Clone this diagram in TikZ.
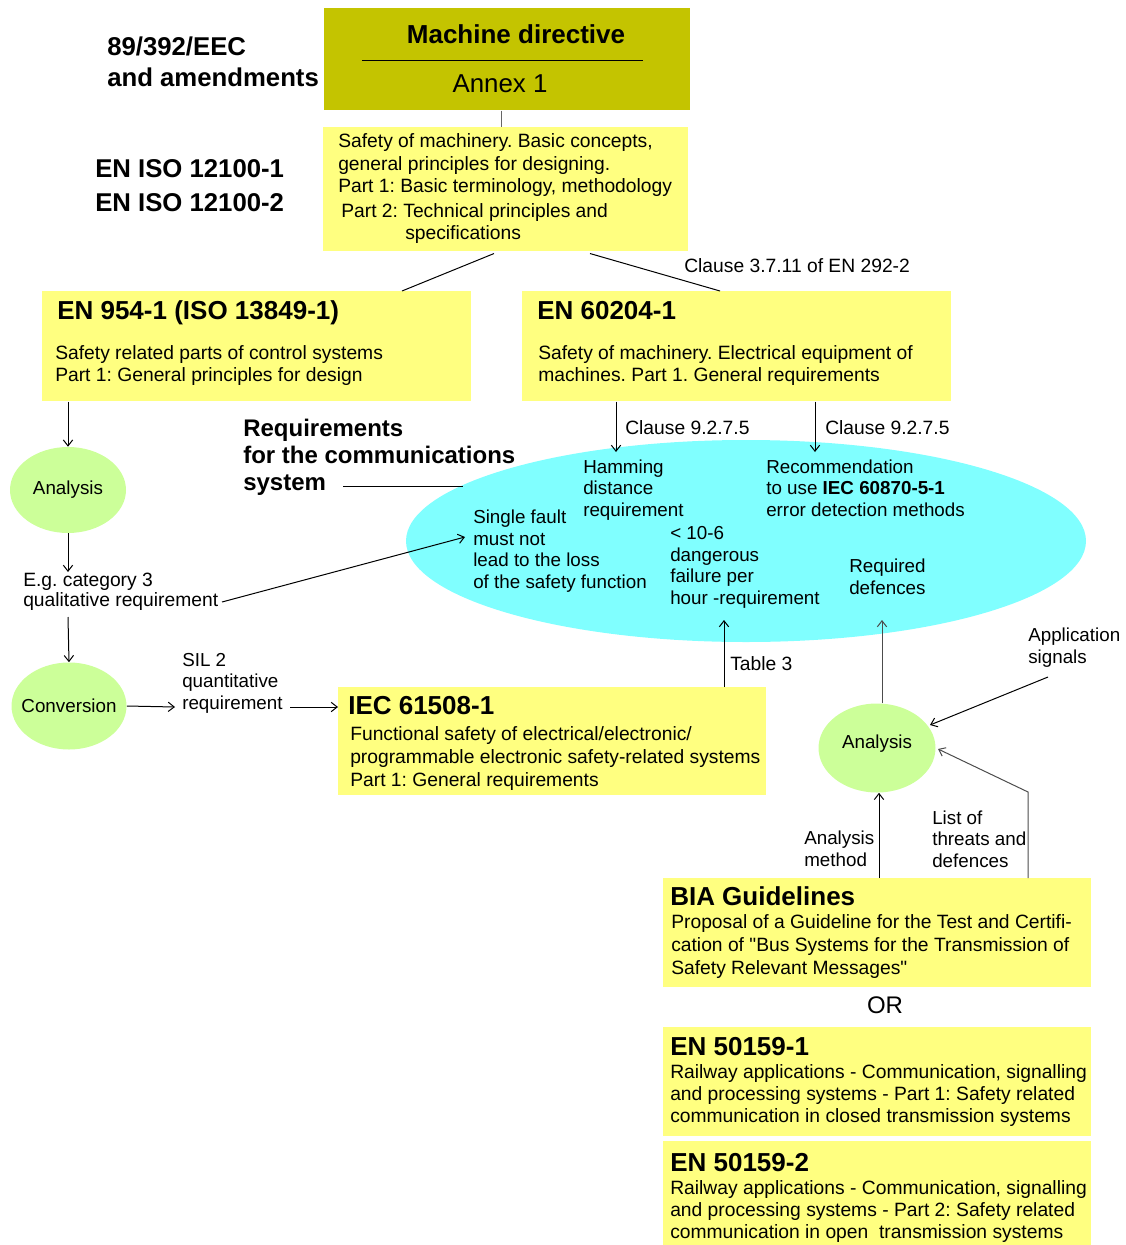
\documentclass[tikz,border=0pt]{standalone}
\usepackage{fontspec}
\setmainfont{Liberation Sans}[Ligatures=TeXOff]
\usetikzlibrary{arrows.meta,calc,shapes.geometric}
\definecolor{boxyellow}{HTML}{FFFF80}
\definecolor{dirolive}{HTML}{C4C400}
\definecolor{reqcyan}{HTML}{80FFFF}
\definecolor{anagreen}{HTML}{CCFF99}
\newcommand\rgfont{\fontsize{14.45}{16.5}\selectfont}
\newcommand\elfont{\fontsize{14.1}{16.1}\selectfont}
\newcommand\hdfont{\bfseries\fontsize{19.5}{23}\selectfont}
\frenchspacing
\begin{document}
\begin{tikzpicture}[x=0.75pt,y=-0.75pt,
  ybox/.style={fill=boxyellow,inner sep=0pt,anchor=north west},
  % multi-line texts are placed by the baseline of their last line
  txt/.style={font=\rgfont,align=left,inner sep=0pt,anchor=base west},
  etxt/.style={font=\elfont,align=left,inner sep=0pt,anchor=base west},
  hd/.style={font=\hdfont,align=left,inner sep=0pt,anchor=base west},
  greenell/.style={ellipse,fill=anagreen,inner sep=0pt,font=\elfont},
  conn/.style={draw=black,line width=0.75pt},
  arr/.style={conn,-{Straight Barb[length=4.5pt,width=7pt]}}]
\useasboundingbox (0,0) rectangle (1125,1245);

% ---- boxes ----
\node[fill=dirolive,inner sep=0pt,anchor=north west,minimum width={366*0.75pt},minimum height={102*0.75pt}] (md) at (324,8) {};
\node[ybox,minimum width={365*0.75pt},minimum height={124*0.75pt}] (iso) at (323,127) {};
\node[ybox,minimum width={429*0.75pt},minimum height={110*0.75pt}] (en954) at (42,291) {};
\node[ybox,minimum width={429*0.75pt},minimum height={110*0.75pt}] (en602) at (522,291) {};
\node[ybox,minimum width={428*0.75pt},minimum height={108*0.75pt}] (iec) at (338,687) {};
\node[ybox,minimum width={428*0.75pt},minimum height={109*0.75pt}] (bia) at (663,878) {};
\node[ybox,minimum width={428*0.75pt},minimum height={109*0.75pt}] (enA) at (663,1027) {};
\node[ybox,minimum width={428*0.75pt},minimum height={104*0.75pt}] (enB) at (663,1141) {};

% ---- ellipses (labels set on top so the shapes keep their size) ----
\node[ellipse,fill=reqcyan,inner sep=0pt,minimum width={680*0.75pt},minimum height={202*0.75pt}] (req) at (746,541) {};
\node[greenell,minimum width={116*0.75pt},minimum height={86*0.75pt}] (anA) at (68,490) {};
\node[font=\elfont,inner sep=0pt] (anAt) at (anA.center) {Analysis};
\node[greenell,minimum width={115*0.75pt},minimum height={87*0.75pt}] (conv) at (69,706) {};
\node[font=\elfont,inner sep=0pt] (convt) at (conv.center) {Conversion};
\node[greenell,minimum width={117*0.75pt},minimum height={89*0.75pt}] (anB) at (877,748) {};
\node[font=\elfont,inner sep=0pt] (anBt) at ($(anB.center)+(0,-4)$) {Analysis};

% ---- machine directive ----
\node[font=\hdfont,inner sep=0pt,anchor=base] (mdt) at (516,44) {Machine directive};
\draw[line width=0.75pt] (362,61) -- (643,61);
\node[font=\fontsize{19.4}{23}\selectfont,inner sep=0pt,anchor=base] (annex) at (500,93) {Annex 1};

% ---- left titles ----
\node[font=\bfseries\fontsize{19.3}{23.25}\selectfont,align=left,inner sep=0pt,anchor=base west] (eec) at (107,87) {89/392/EEC\\and amendments};
\node[font=\bfseries\fontsize{19.3}{25.5}\selectfont,align=left,inner sep=0pt,anchor=base west] (isot) at (95,211) {EN ISO 12100-1\\EN ISO 12100-2};
\node[font=\bfseries\fontsize{18}{20.25}\selectfont,align=left,inner sep=0pt,anchor=base west] (reqt) at (243,490) {Requirements\\for the communications\\system};

% ---- box texts ----
\node[txt] (isoA) at (338,192) {Safety of machinery. Basic concepts,\\general principles for designing.\\Part 1: Basic terminology, methodology};
\node[txt] (isoB) at (341,217) {Part 2: Technical principles and};
\node[txt] (isoC) at (405,239) {specifications};

\node[hd] (en954h) at (57,319) {EN 954-1 (ISO 13849-1)};
\node[txt] (en954b) at (55,381) {Safety related parts of control systems\\Part 1: General principles for design};
\node[hd] (en602h) at (537,319) {EN 60204-1};
\node[txt] (en602b) at (538,381) {Safety of machinery. Electrical equipment of\\machines. Part 1. General requirements};

\node[hd] (iech) at (348,714) {IEC 61508-1};
\node[txt,font=\fontsize{14.45}{16.9}\selectfont] (iecb) at (350,786) {Functional safety of electrical/electronic/\\programmable electronic safety-related systems\\Part 1: General requirements};

\node[hd] (biah) at (670,905) {BIA Guidelines};
\node[txt,font=\fontsize{14.45}{16.9}\selectfont] (biab) at (671,974) {Proposal of a Guideline for the Test and Certifi-\\cation of "Bus Systems for the Transmission of\\Safety Relevant Messages"};
\node[txt,anchor=base,font=\fontsize{18}{20}\selectfont] (or) at (885,1013) {OR};
\node[hd] (enAh) at (670,1055) {EN 50159-1};
\node[txt] (enAb) at (670,1122) {Railway applications - Communication, signalling\\and processing systems - Part 1: Safety related\\communication in closed transmission systems};
\node[hd] (enBh) at (670,1171) {EN 50159-2};
\node[txt] (enBb) at (670,1238) {Railway applications - Communication, signalling\\and processing systems - Part 2: Safety related\\communication in open\ \ transmission systems};

% ---- texts inside the requirements ellipse ----
\node[etxt] (ham) at (583,516) {Hamming\\distance\\requirement};
\node[etxt] (rec) at (766,516) {Recommendation\\to use \textbf{IEC 60870-5-1}\\error detection methods};
\node[etxt] (sf) at (473,588) {Single fault\\must not\\lead to the loss\\of the safety function};
\node[etxt] (dang) at (670,604) {< 10-6\\dangerous\\failure per\\hour -requirement};
\node[etxt] (def) at (849,594) {Required\\defences};

% ---- labels ----
\node[txt] (cl3711) at (684,272) {Clause 3.7.11 of EN 292-2};
\node[txt] (clA) at (625,434) {Clause 9.2.7.5};
\node[txt] (clB) at (825,434) {Clause 9.2.7.5};
\node[txt,font=\fontsize{14.45}{15}\selectfont] (eg) at (23,606) {E.g. category 3\\qualitative requirement};
\node[etxt] (sil) at (182,709) {SIL 2\\quantitative\\requirement};
\node[txt] (tab) at (730,670) {Table 3};
\node[etxt] (app) at (1028,663) {Application\\signals};
\node[etxt] (am) at (804,866) {Analysis\\method};
\node[etxt] (lt) at (932,867) {List of\\threats and\\defences};

% ---- free ends of connectors beside the labels ----
\coordinate (egtop) at (68,572);
\coordinate (egbot) at (68,617);
\coordinate (egright) at (222,602);
\coordinate (sfleft) at (465,537);
\coordinate (silin) at (175,707);
\coordinate (silout) at (290,707);
\coordinate (reqtout) at (343,486);
\coordinate (reqedge) at (463,486);
\coordinate (appout) at (1048,677);

% ---- connectors ----
\draw[conn,draw=black!60] ($(md.south west)+(177,0)$) -- ($(iso.north west)+(178,0)$);
\draw[conn] ($(iso.south west)+(171,2)$) -- ($(en954.north west)+(360,0)$);
\draw[conn] ($(iso.south west)+(267,2)$) -- ($(en602.north west)+(198,0)$);
\draw[arr] ($(en602.south west)+(94,0)$) -- ($(req.center)+(-130,-89)$);
\draw[arr] ($(en602.south west)+(293,0)$) -- ($(req.center)+(69,-89)$);
\draw[conn] (reqtout) -- (reqedge);
\draw[arr] ($(en954.south west)+(26,0)$) -- (anA.north);
\draw[arr] (anA.south) -- (egtop);
\draw[arr] (egbot) -- (conv.north);
\draw[arr] (egright) -- (sfleft);
\draw[arr] (conv.east) -- (silin);
\draw[arr] (silout) -- ($(iec.north west)+(0,20)$);
\draw[arr] ($(iec.north west)+(386,0)$) -- ($(req.center)+(-22,79)$);
\draw[arr,draw=black!70] (anB.north -| 882,0) -- ($(req.center)+(136,79)$);
\draw[arr] (appout) -- ($(anB.center)+(53,-23)$);
\draw[arr,draw=black!70] ($(bia.north west)+(365,0)$) -- ++(0,-86) -- ($(anB.center)+(61,1)$);
\draw[arr] ($(bia.north west)+(216,0)$) -- (anB.south -| 879,0);
\end{tikzpicture}
\end{document}
